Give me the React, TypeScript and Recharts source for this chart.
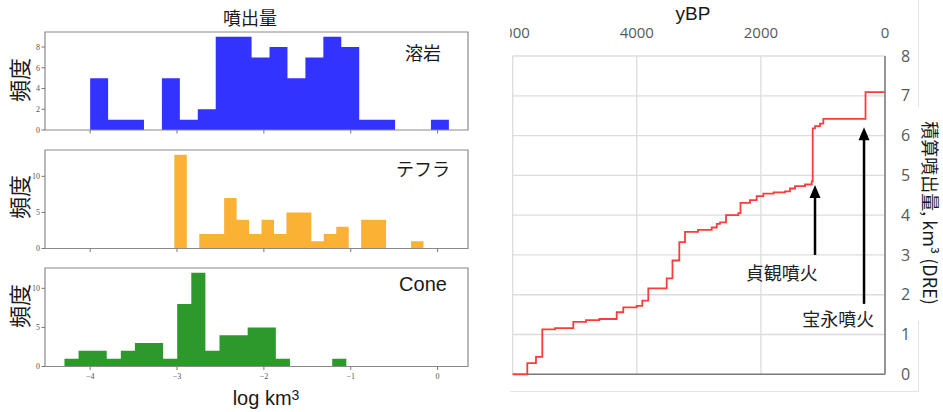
import React from 'react'
import {
  AreaChart,
  Area,
  LineChart,
  Line,
  XAxis,
  YAxis,
  CartesianGrid,
  ReferenceArea,
  ReferenceLine,
  ReferenceDot,
} from 'recharts'

// 噴出量ヒストグラム（各20ビン）
const lavaCounts = [5, 1, 1, 0, 5, 1, 2, 9, 9, 7, 8, 5, 7, 9, 8, 1, 1, 0, 0, 1]
const tephraCounts = [13, 0, 2, 2, 7, 4, 2, 4, 2, 5, 5, 1, 2, 3, 0, 4, 4, 0, 0, 1]
const coneCounts = [1, 2, 2, 1, 2, 3, 3, 1, 8, 12, 2, 4, 4, 5, 5, 1, 0, 0, 0, 1]

// ビンの範囲 (log km3)
const lavaRange = [-4.0, 0.13]
const tephraRange = [-3.031, -0.163]
const coneRange = [-4.296, -1.051]

const logTicks = [-4, -3, -2, -1, 0]
const lavaTicks = [0, 2, 4, 6, 8]
const tephraTicks = [0, 5, 10]
const coneTicks = [0, 5, 10]

// 積算噴出量 (yBP, km3 DRE)
const eruptionAges = [
  6000, 5765, 5625, 5523, 5318, 5023, 4819, 4604, 4324, 4218, 4002, 3911, 3815,
  3518, 3425, 3315, 3223, 3014, 2793, 2712, 2659, 2562, 2364, 2329, 2176, 2068,
  1961, 1795, 1612, 1531, 1450, 1289, 1181, 1165, 1128, 1048, 994, 314, 0,
]
const cumulativeVolume = [
  0, 0.28, 0.44, 1.13, 1.16, 1.32, 1.36, 1.39, 1.56, 1.68, 1.72, 1.85, 2.16,
  2.41, 2.86, 3.32, 3.58, 3.63, 3.69, 3.78, 3.82, 4.0, 4.05, 4.31, 4.38, 4.48,
  4.54, 4.57, 4.6, 4.67, 4.73, 4.77, 4.85, 6.18, 6.24, 6.3, 6.42, 7.09, 7.09,
]
const ageTicks = [0, 2000, 4000, 6000]
const volumeTicks = [0, 1, 2, 3, 4, 5, 6, 7, 8]

// 矢印の注記
const eruptionNames = ['貞観噴火', '宝永噴火']
const arrowAges = [1128, 338]
const arrowTips = [4.76, 6.21]
const arrowTails = [3.0, 1.77]
const labelAges = [1665, 753]
const labelVolumes = [2.58, 1.41]

const X_DOMAIN = [-4.52, 0.35]
const JP = '"Noto Sans CJK JP", sans-serif'
const SANS = '"Liberation Sans", Arial, sans-serif'

const binSteps = (counts: number[], range: number[]) => {
  const w = (range[1] - range[0]) / counts.length
  const pts = counts.map((n, i) => ({ x: range[0] + i * w, n }))
  pts.push({ x: range[1], n: counts[counts.length - 1] })
  return pts
}

const fmtMinus = (v: number) => (v < 0 ? `\u2212${Math.abs(v)}` : `${v}`)

const tickFont = { fontSize: 8, fill: '#555', fontFamily: '"Liberation Serif", serif' }

function HistPanel(props: {
  counts: number[]
  range: number[]
  yTicks: number[]
  yMax: number
  color: string
  top: number
  height: number
  showLabels?: boolean
}) {
  const { counts, range, yTicks, yMax, color, top, height, showLabels } = props
  const axisH = showLabels ? 22 : 6
  return (
    <div style={{ position: 'absolute', left: 0, top: top - 2 }}>
      <AreaChart
        width={470}
        height={2 + height + axisH}
        data={binSteps(counts, range)}
        margin={{ top: 2, right: 2, left: 0, bottom: 0 }}
      >
        <XAxis
          dataKey="x"
          type="number"
          domain={X_DOMAIN}
          allowDataOverflow
          ticks={logTicks}
          interval={0}
          height={axisH}
          axisLine={false}
          tickLine={{ stroke: '#777' }}
          tickSize={3.5}
          tickMargin={3}
          tickFormatter={fmtMinus}
          tick={showLabels ? tickFont : () => <g />}
        />
        <YAxis
          type="number"
          domain={[0, yMax]}
          allowDataOverflow
          ticks={yTicks}
          interval={0}
          width={45}
          axisLine={false}
          tickLine={{ stroke: '#777' }}
          tickSize={3.5}
          tickMargin={1.5}
          tick={tickFont}
        />
        <Area
          type="stepAfter"
          dataKey="n"
          fill={color}
          fillOpacity={1}
          stroke="none"
          isAnimationActive={false}
        />
        <ReferenceArea
          x1={X_DOMAIN[0]}
          x2={X_DOMAIN[1]}
          y1={0}
          y2={yMax}
          fill="none"
          fillOpacity={0}
          stroke="#8a8a8a"
          strokeWidth={1.2}
          ifOverflow="visible"
        />
      </AreaChart>
    </div>
  )
}

function Txt(props: {
  x: number
  y: number
  size: number
  font?: string
  rotate?: number
  color?: string
  children: React.ReactNode
}) {
  const { x, y, size, font = JP, rotate = 0, color = '#1a1a1a', children } = props
  return (
    <div
      style={{
        position: 'absolute',
        left: x,
        top: y,
        transform: `translate(-50%, -50%) rotate(${rotate}deg)`,
        fontSize: size,
        fontFamily: font,
        color,
        whiteSpace: 'nowrap',
        lineHeight: 1,
      }}
    >
      {children}
    </div>
  )
}

const Arrow = (p: any) => {
  const { x1, y1, x2, y2 } = p
  return (
    <g>
      <line x1={x1} y1={y1} x2={x2} y2={y2 + 10} stroke="#000" strokeWidth={2.5} />
      <polygon points={`${x2},${y2} ${x2 - 5.5},${y2 + 13} ${x2 + 5.5},${y2 + 13}`} fill="#000" />
    </g>
  )
}

export default function App() {
  const volumeData = eruptionAges.map((t, i) => ({ t, v: cumulativeVolume[i] }))

  return (
    <div
      style={{
        position: 'absolute',
        left: 0,
        top: 0,
        width: 943,
        height: 412,
        background: '#fff',
        overflow: 'hidden',
        fontFamily: SANS,
      }}
    >
      <HistPanel counts={lavaCounts} range={lavaRange} yTicks={lavaTicks} yMax={9.45} color="#3333ff" top={32} height={98} />
      <HistPanel counts={tephraCounts} range={tephraRange} yTicks={tephraTicks} yMax={13.65} color="#fbb234" top={150} height={98.5} />
      <HistPanel counts={coneCounts} range={coneRange} yTicks={coneTicks} yMax={12.6} color="#2d992d" top={267.5} height={98.5} showLabels />

      <Txt x={250} y={17} size={18}>噴出量</Txt>
      <Txt x={423} y={52} size={18}>溶岩</Txt>
      <Txt x={423} y={168} size={18}>テフラ</Txt>
      <Txt x={423} y={284} size={20} font={SANS}>Cone</Txt>
      <Txt x={18} y={80} size={22} rotate={-90}>頻度</Txt>
      <Txt x={18} y={197} size={22} rotate={-90}>頻度</Txt>
      <Txt x={18} y={306} size={22} rotate={-90}>頻度</Txt>
      <Txt x={266} y={398} size={20} font={SANS}>
        log km<span style={{ fontSize: 14, verticalAlign: 5 }}>3</span>
      </Txt>

      <div style={{ position: 'absolute', left: 510, top: 0, width: 433, height: 412, overflow: 'hidden' }}>
        <LineChart
          width={433}
          height={392}
          data={volumeData}
          margin={{ top: 26, right: 18, left: 2.7, bottom: 17.7 }}
        >
          <CartesianGrid stroke="#dcdcdc" strokeWidth={1.3} />
          <XAxis
            dataKey="t"
            type="number"
            orientation="top"
            reversed
            domain={[0, 6000]}
            ticks={ageTicks}
            interval={0}
            height={30}
            axisLine={false}
            tickLine={false}
            tickSize={0}
            tickMargin={18.5}
            tick={{ fontSize: 15, fill: '#595959', fontFamily: '"Open Sans", sans-serif' }}
          />
          <YAxis
            type="number"
            orientation="right"
            domain={[0, 8]}
            ticks={volumeTicks}
            interval={0}
            width={40}
            axisLine={{ stroke: '#7a7a7a', strokeWidth: 1.5 }}
            tickLine={false}
            tickSize={0}
            tickMargin={16}
            tick={{ fontSize: 16, fill: '#595959', fontFamily: '"Open Sans", sans-serif' }}
          />
          <ReferenceLine y={0} stroke="#7a7a7a" strokeWidth={1.5} />
          <Line
            type="stepAfter"
            dataKey="v"
            stroke="#ff3b3b"
            strokeWidth={1.8}
            dot={false}
            isAnimationActive={false}
          />
          {eruptionNames.map((name, i) => (
            <ReferenceLine
              key={`arrow-${name}`}
              segment={[
                { x: arrowAges[i], y: arrowTails[i] },
                { x: arrowAges[i], y: arrowTips[i] },
              ]}
              shape={Arrow}
            />
          ))}
          {eruptionNames.map((name, i) => (
            <ReferenceDot
              key={`label-${name}`}
              x={labelAges[i]}
              y={labelVolumes[i]}
              r={0}
              shape={(p: any) => (
                <text
                  x={p.cx}
                  y={p.cy}
                  textAnchor="middle"
                  dominantBaseline="central"
                  fontSize={18}
                  fontFamily={JP}
                  fill="#222"
                >
                  {name}
                </text>
              )}
            />
          ))}
        </LineChart>
        <div style={{ position: 'absolute', left: 0, top: 391, width: 409, height: 1, background: '#e4e4e4' }} />
        <div style={{ position: 'absolute', left: 408, top: 0, width: 1, height: 107, background: '#e4e4e4' }} />
        <div style={{ position: 'absolute', left: 408, top: 321, width: 1, height: 71, background: '#e4e4e4' }} />
      </div>

      <Txt x={693} y={13} size={19} font={SANS}>yBP</Txt>
      <Txt x={931} y={213} size={18} rotate={90}>
        積算噴出量, km³ (DRE)
      </Txt>
    </div>
  )
}
